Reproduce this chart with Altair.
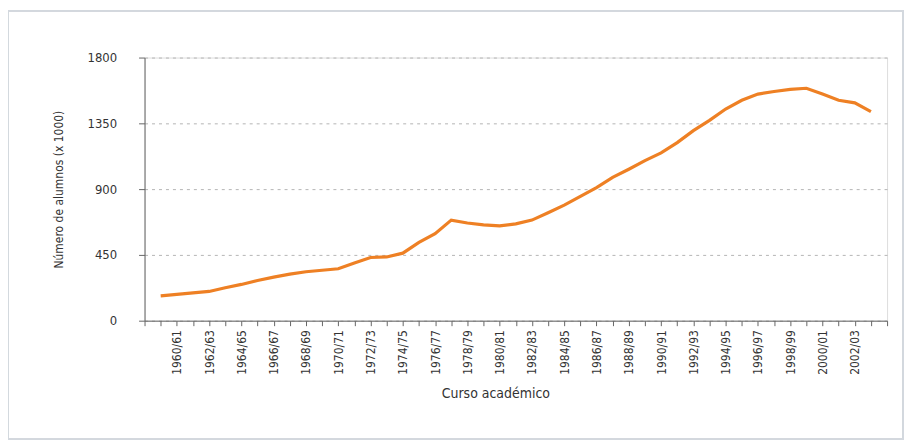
import altair as alt
import pandas as pd

# Academic years (start year / end year) and students (thousands)
cursos = [
    "1959/60", "1960/61", "1961/62", "1962/63", "1963/64", "1964/65", "1965/66",
    "1966/67", "1967/68", "1968/69", "1969/70", "1970/71", "1971/72", "1972/73",
    "1973/74", "1974/75", "1975/76", "1976/77", "1977/78", "1978/79", "1979/80",
    "1980/81", "1981/82", "1982/83", "1983/84", "1984/85", "1985/86", "1986/87",
    "1987/88", "1988/89", "1989/90", "1990/91", "1991/92", "1992/93", "1993/94",
    "1994/95", "1995/96", "1996/97", "1997/98", "1998/99", "1999/00", "2000/01",
    "2001/02", "2002/03", "2003/04",
]
alumnos = [
    170, 180, 190, 200, 225, 248, 275,
    298, 318, 335, 345, 355, 395, 432,
    436, 462, 535, 595, 688, 668, 655,
    648, 662, 688, 738, 790, 850, 910,
    980, 1036, 1095, 1148, 1218, 1300, 1370,
    1448, 1508, 1550, 1568, 1582, 1590, 1550,
    1508, 1490, 1430,
]
y_ticks = [0, 450, 900, 1350, 1800]
x_tick_years = list(range(1958, 2005))

df = pd.DataFrame({
    "curso": cursos,
    "anio": [int(c[:4]) for c in cursos],
    "alumnos": alumnos,
})

FONT = "Liberation Sans Narrow, DejaVu Sans Condensed, Arial Narrow, sans-serif"

x_axis = alt.Axis(
    title="Curso académico",
    values=x_tick_years,
    labelExpr="(datum.value % 2 == 0 && datum.value >= 1960 && datum.value <= 2002) ? "
              "datum.value + '/' + slice('0' + ((datum.value + 1) % 100), -2) : ''",
    labelAngle=-90,
    labelFontSize=12,
    labelColor="#333333",
    labelPadding=4,
    labelOverlap=False,
    labelFlush=False,
    tickSize=5,
    tickColor="#666666",
    domainColor="#666666",
    grid=False,
    titleFontSize=14,
    titleFontWeight="normal",
    titleColor="#333333",
    titlePadding=12,
    titleX=352,
)

y_axis = alt.Axis(
    title="Número de alumnos (x 1000)",
    values=y_ticks,
    format="d",
    labelFontSize=13,
    labelColor="#333333",
    labelPadding=22,
    tickSize=6,
    tickColor="#666666",
    domainColor="#666666",
    grid=True,
    gridColor="#b5b5b5",
    gridDash=[3, 4],
    gridWidth=1,
    titleFontSize=12,
    titleFontWeight="normal",
    titleColor="#333333",
    titlePadding=22,
)

line = alt.Chart(df).mark_line(color="#ee8024", strokeWidth=3.2).encode(
    x=alt.X("anio:Q", axis=x_axis,
            scale=alt.Scale(domain=[1958, 2004], nice=False, zero=False)),
    y=alt.Y("alumnos:Q", axis=y_axis,
            scale=alt.Scale(domain=[0, 1800], nice=False)),
)

frame = alt.Chart(df).mark_rect(fill=None, stroke="#d3d8de", strokeWidth=1.5).encode(
    x=alt.value(-137), x2=alt.value(761),
    y=alt.value(-47), y2=alt.value(383),
)

chart = alt.layer(frame, line).properties(
    width=745,
    height=264,
    padding={"left": 137, "top": 49, "right": 20, "bottom": 120},
    autosize=alt.AutoSizeParams(type="none"),
    background="white",
).configure_view(stroke=None).configure(font=FONT)

chart.save("out.html", embed_options={"renderer": "svg", "actions": False})
